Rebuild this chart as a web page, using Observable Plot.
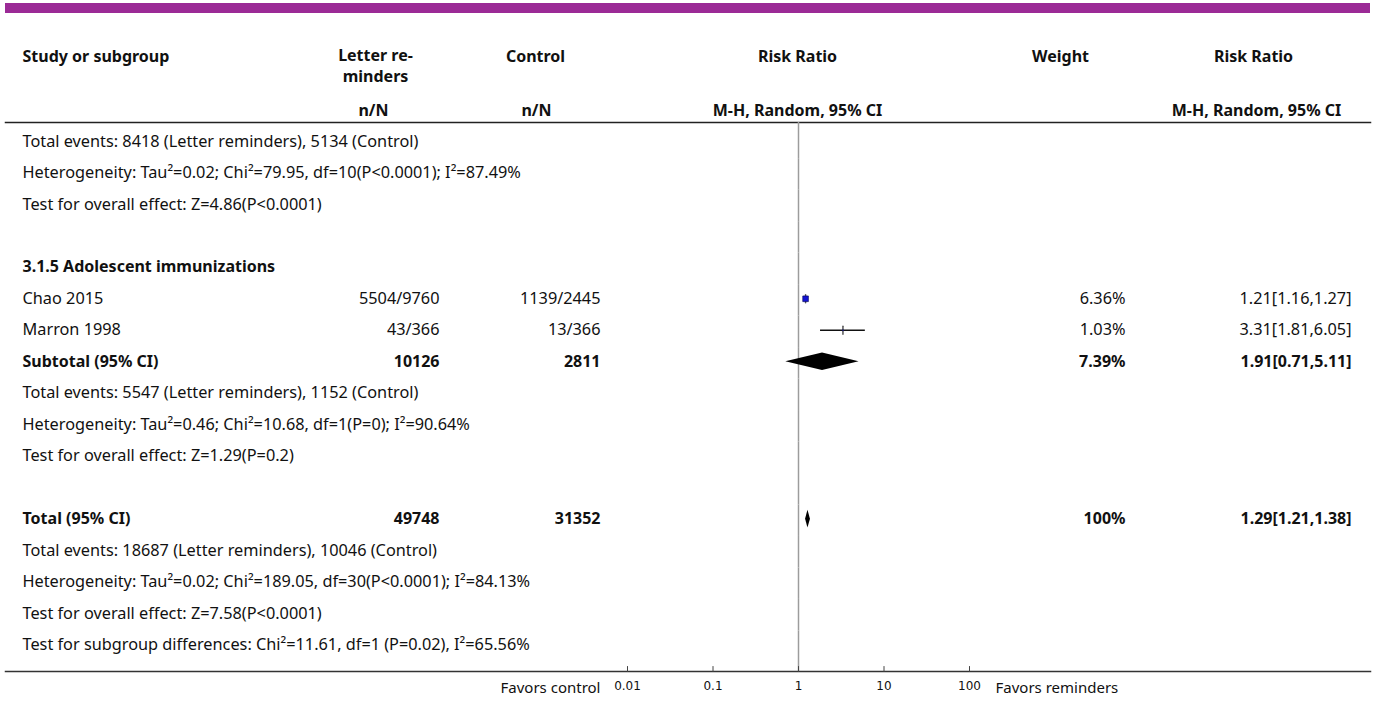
<!DOCTYPE html>
<html><head><meta charset="utf-8">
<script src="https://cdn.jsdelivr.net/npm/d3@7"></script>
<script src="https://cdn.jsdelivr.net/npm/@observablehq/plot@0.6"></script>
<style>
body{margin:0;background:#fff;}
#wrap{position:relative;width:1375px;height:702px;}
#bar{position:absolute;left:5px;top:3px;width:1365px;height:10px;background:#9b2a96;}
#chart{position:absolute;left:0;top:0;}
</style></head><body>
<div id="wrap"><div id="chart"></div><div id="bar"></div></div>
<script>
const FONT = "'Noto Sans', 'Open Sans', sans-serif";

// Row labels (left column), top to bottom
const rowLabels = [
  "Total events: 8418 (Letter reminders), 5134 (Control)",
  "Heterogeneity: Tau²=0.02; Chi²=79.95, df=10(P<0.0001); I²=87.49%",
  "Test for overall effect: Z=4.86(P<0.0001)",
  "",
  "3.1.5 Adolescent immunizations",
  "Chao 2015",
  "Marron 1998",
  "Subtotal (95% CI)",
  "Total events: 5547 (Letter reminders), 1152 (Control)",
  "Heterogeneity: Tau²=0.46; Chi²=10.68, df=1(P=0); I²=90.64%",
  "Test for overall effect: Z=1.29(P=0.2)",
  "",
  "Total (95% CI)",
  "Total events: 18687 (Letter reminders), 10046 (Control)",
  "Heterogeneity: Tau²=0.02; Chi²=189.05, df=30(P<0.0001); I²=84.13%",
  "Test for overall effect: Z=7.58(P<0.0001)",
  "Test for subgroup differences: Chi²=11.61, df=1 (P=0.02), I²=65.56%"
];
const boldRows = ["3.1.5 Adolescent immunizations", "Subtotal (95% CI)", "Total (95% CI)"];

// Individual studies
const studyNames   = ["Chao 2015", "Marron 1998"];
const studyLetter  = ["5504/9760", "43/366"];
const studyControl = ["1139/2445", "13/366"];
const studyWeight  = [6.36, 1.03];
const studyRR      = [1.21, 3.31];
const studyLo      = [1.16, 1.81];
const studyHi      = [1.27, 6.05];

// Pooled estimates
const pooledNames   = ["Subtotal (95% CI)", "Total (95% CI)"];
const pooledLetter  = [10126, 49748];
const pooledControl = [2811, 31352];
const pooledWeight  = ["7.39%", "100%"];
const pooledRR      = [1.91, 1.29];
const pooledLo      = [0.71, 1.21];
const pooledHi      = [5.11, 1.38];

// Axis
const axisTicks = [0.01, 0.1, 1, 10, 100];
const nullEffect = 1;

// Header texts
const headStudy = "Study or subgroup";
const headLetter = ["Letter re-", "minders"];
const headControl = "Control";
const headRR = "Risk Ratio";
const headWeight = "Weight";
const headNN = "n/N";
const headMethod = "M-H, Random, 95% CI";
const favorsLeft = "Favors control";
const favorsRight = "Favors reminders";

const f2 = v => v.toFixed(2);
const rows = rowLabels.map((label, i) => ({label, i, bold: boldRows.includes(label)}));
const studies = studyNames.map((name, k) => ({
  row: rowLabels.indexOf(name), letter: studyLetter[k], control: studyControl[k],
  w: studyWeight[k], weight: f2(studyWeight[k]) + "%",
  rr: studyRR[k], lo: studyLo[k], hi: studyHi[k],
  ci: `${f2(studyRR[k])}[${f2(studyLo[k])},${f2(studyHi[k])}]`
}));
const pooled = pooledNames.map((name, k) => ({
  row: rowLabels.indexOf(name), letter: String(pooledLetter[k]), control: String(pooledControl[k]),
  weight: pooledWeight[k], rr: pooledRR[k], lo: pooledLo[k], hi: pooledHi[k],
  ci: `${f2(pooledRR[k])}[${f2(pooledLo[k])},${f2(pooledHi[k])}]`
}));
const H = 0.28;
const diamondPts = pooled.flatMap(p => [
  {row: p.row, x: p.lo, y1: p.row, y2: p.row},
  {row: p.row, x: p.rr, y1: p.row - H, y2: p.row + H},
  {row: p.row, x: p.hi, y1: p.row, y2: p.row}
]);
const yDomain = [-0.6, rowLabels.length - 1 + 0.84];
const segs = rows.map((r, i) => ({
  y1: i === 0 ? yDomain[0] : i - 0.45,
  y2: i === rows.length - 1 ? yDomain[1] : i + 0.55
}));

// straight line shape for vector marks
const lineShape = {draw(context, l) { context.moveTo(0, 0); context.lineTo(0, -l); }};

const txt = {fontFamily: FONT, fontSize: 16.3, fill: "#111", lineAnchor: "middle"};
const bold = {...txt, fontSize: 16, fontWeight: "bold"};
const head = (text, dx, dy, anchor = "middle") =>
  Plot.text([text], {text: d => d, frameAnchor: "top-left", dx, dy, textAnchor: anchor, ...bold});

const chart = Plot.plot({
  width: 1375, height: 702,
  marginLeft: 5, marginRight: 5, marginTop: 122, marginBottom: 31,
  x: {type: "log", domain: [0.01, 100], range: [627, 969], axis: null},
  y: {domain: yDomain, reverse: true, axis: null},
  r: {type: "linear", range: [0, 3.2]},
  style: {fontFamily: FONT, fontSize: "16px", color: "#111", background: "#fff"},
  marks: [
    // header
    head(headStudy, 17, -66, "start"),
    head(headLetter[0], 370, -67),
    head(headLetter[1], 370, -46),
    head(headControl, 530, -66),
    head(headRR, 792, -66),
    head(headWeight, 1055, -66),
    head(headRR, 1248, -66),
    head(headNN, 368, -12),
    head(headNN, 531, -12),
    head(headMethod, 792, -12),
    head(headMethod, 1251, -12),
    Plot.frame({anchor: "top", stroke: "#222", strokeWidth: 1.5}),
    // null effect line
    Plot.ruleX(segs, {x: () => nullEffect, y1: "y1", y2: "y2", stroke: "#9c9c9c", strokeWidth: 1.5}),
    // study CIs and markers
    Plot.ruleY(studies, {y: "row", x1: "lo", x2: "hi", stroke: "#111", strokeWidth: 1.3}),
    Plot.vector(studies, {x: "rr", y: "row", length: 8, anchor: "middle", shape: lineShape, stroke: "#555", strokeWidth: 1.5}),
    Plot.dot(studies, {x: "rr", y: "row", r: "w", symbol: "square", fill: "#1414d2", stroke: "#00005a", strokeWidth: 0.6}),
    // pooled diamonds
    Plot.areaY(diamondPts, {x: "x", y1: "y1", y2: "y2", z: "row", fill: "#000", curve: "linear"}),
    // row labels
    Plot.text(rows.filter(r => !r.bold), {y: "i", text: "label", frameAnchor: "left", dx: 17, textAnchor: "start", ...txt}),
    Plot.text(rows.filter(r => r.bold), {y: "i", text: "label", frameAnchor: "left", dx: 17, textAnchor: "start", ...bold}),
    // study columns
    Plot.text(studies, {y: "row", text: "letter", frameAnchor: "left", dx: 434, textAnchor: "end", ...txt}),
    Plot.text(studies, {y: "row", text: "control", frameAnchor: "left", dx: 595, textAnchor: "end", ...txt}),
    Plot.text(studies, {y: "row", text: "weight", frameAnchor: "left", dx: 1120, textAnchor: "end", ...txt}),
    Plot.text(studies, {y: "row", text: "ci", frameAnchor: "left", dx: 1346, textAnchor: "end", ...txt}),
    // pooled columns
    Plot.text(pooled, {y: "row", text: "letter", frameAnchor: "left", dx: 434, textAnchor: "end", ...bold}),
    Plot.text(pooled, {y: "row", text: "control", frameAnchor: "left", dx: 595, textAnchor: "end", ...bold}),
    Plot.text(pooled, {y: "row", text: "weight", frameAnchor: "left", dx: 1120, textAnchor: "end", ...bold}),
    Plot.text(pooled, {y: "row", text: "ci", frameAnchor: "left", dx: 1346, textAnchor: "end", ...bold}),
    // bottom axis
    Plot.frame({anchor: "bottom", stroke: "#333", strokeWidth: 1.5}),
    Plot.vector(axisTicks, {x: d => d, frameAnchor: "bottom", length: 5, anchor: "start", shape: lineShape, stroke: "#444", strokeWidth: 1}),
    Plot.axisX({ticks: axisTicks, tickSize: 0, tickPadding: 10, tickFormat: d => String(d),
      fontFamily: "'DejaVu Sans', sans-serif", fontSize: 12, fill: "#111"}),
    Plot.text([favorsLeft], {text: d => d, frameAnchor: "bottom-left", dx: 595, dy: 17, textAnchor: "end", ...txt, fontSize: 15}),
    Plot.text([favorsRight], {text: d => d, frameAnchor: "bottom-left", dx: 990, dy: 17, textAnchor: "start", ...txt, fontSize: 15})
  ]
});
document.getElementById("chart").appendChild(chart);
</script>
</body></html>
